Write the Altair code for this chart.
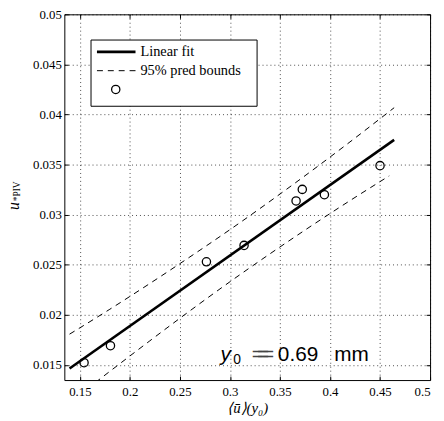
import altair as alt
import pandas as pd

# data points
px = [0.1542, 0.1806, 0.2765, 0.3141, 0.3661, 0.3723, 0.3944, 0.4500]
py = [0.01523, 0.01693, 0.02530, 0.02694, 0.03138, 0.03253, 0.03200, 0.03490]
# linear fit
fit_x = [0.1397, 0.4641]
fit_y = [0.01466, 0.03747]
# 95% prediction bounds
up_x = [0.1397, 0.18, 0.22, 0.26, 0.30, 0.34, 0.38, 0.42, 0.4641]
up_y = [0.01808, 0.02057, 0.02314, 0.02579, 0.02851, 0.03134, 0.03426, 0.03727, 0.04068]
lo_x = [0.1397, 0.18, 0.22, 0.26, 0.30, 0.34, 0.38, 0.42, 0.4592]
lo_y = [0.01126, 0.01437, 0.01742, 0.02041, 0.02331, 0.02610, 0.02880, 0.03141, 0.03388]

x_ticks = [0.15, 0.2, 0.25, 0.3, 0.35, 0.4, 0.45, 0.5]
y_ticks = [0.015, 0.02, 0.025, 0.03, 0.035, 0.04, 0.045, 0.05]
legend_labels = ["Linear fit", "95% pred bounds"]

SERIF = "Liberation Serif"
xs = alt.Scale(domain=[0.1345, 0.5], nice=False, zero=False)
ys = alt.Scale(domain=[0.0135, 0.05], nice=False, zero=False)

def tick_axis(orient):
    return alt.Axis(orient=orient, values=x_ticks if orient in ("top", "bottom") else y_ticks,
                    labels=False, grid=False, domain=False, ticks=True, tickSize=4,
                    offset=-4, tickColor="black", tickWidth=1, title=None)

pts = pd.DataFrame({"x": px, "y": py})
fit = pd.DataFrame({"x": fit_x, "y": fit_y})
up = pd.DataFrame({"x": up_x, "y": up_y})
lo = pd.DataFrame({"x": lo_x, "y": lo_y})
one = pd.DataFrame({"a": [0]})

points = alt.Chart(pts).mark_point(shape="circle", filled=False, color="black",
                                   size=70, strokeWidth=1.3, opacity=1).encode(
    x=alt.X("x:Q", scale=xs, axis=alt.Axis(
        orient="bottom", values=x_ticks, format="~g", grid=True, ticks=False, domain=False,
        gridColor="black", gridDash=[1, 3], gridOpacity=0.7, gridWidth=1,
        labelFont=SERIF, labelFontSize=13, labelColor="black", labelPadding=6,
        title="⟨ū⟩(y₀)", titleFont=SERIF, titleFontSize=15, titleFontStyle="italic",
        titleFontWeight="normal", titleColor="black", titlePadding=2)),
    y=alt.Y("y:Q", scale=ys, axis=alt.Axis(
        orient="left", values=y_ticks, format="~g", grid=True, ticks=False, domain=False,
        gridColor="black", gridDash=[1, 3], gridOpacity=0.7, gridWidth=1,
        labelFont=SERIF, labelFontSize=13, labelColor="black", labelPadding=3,
        title=None)),
)

fit_line = alt.Chart(fit).mark_line(color="black", strokeWidth=2.6, clip=True).encode(
    x=alt.X("x:Q", scale=xs, axis=tick_axis("bottom")),
    y=alt.Y("y:Q", scale=ys, axis=tick_axis("left")),
)
up_line = alt.Chart(up).mark_line(color="black", strokeWidth=1, strokeDash=[6, 5],
                                  interpolate="monotone", clip=True).encode(
    x=alt.X("x:Q", scale=xs, axis=tick_axis("top")),
    y=alt.Y("y:Q", scale=ys, axis=tick_axis("right")),
)
lo_line = alt.Chart(lo).mark_line(color="black", strokeWidth=1, strokeDash=[6, 5],
                                  interpolate="monotone", clip=True).encode(
    x=alt.X("x:Q", scale=xs, axis=None),
    y=alt.Y("y:Q", scale=ys, axis=None),
)

# annotation y0 = 0.69 mm
ANN = "Liberation Sans"
def ann_text(txt, xpos, ypos, size=21, style="normal", color="black"):
    return alt.Chart(one).mark_text(text=txt, font=ANN, fontSize=size, fontStyle=style,
                                    align="left", baseline="alphabetic", color=color).encode(
        x=alt.value(xpos), y=alt.value(ypos))

ann = [
    ann_text("y", 158, 351, style="italic"),
    ann_text("0", 171, 354, size=14),
    ann_text("=", 189.5, 351, color="#444"),
    ann_text("=", 195, 351, color="#444"),
    ann_text("=", 200, 351, color="#444"),
    ann_text("0.69", 216, 351),
    ann_text("mm", 273, 351),
]

# y axis title u_{*PIV}
yt_u = alt.Chart(one).mark_text(text="u", font=SERIF, fontSize=16, fontStyle="italic",
                                angle=270, align="left", baseline="alphabetic", color="black").encode(
    x=alt.value(-46), y=alt.value(198))
yt_sub = alt.Chart(one).mark_text(text="*PIV", font=SERIF, fontSize=9.5,
                                  angle=270, align="left", baseline="alphabetic", color="black").encode(
    x=alt.value(-45), y=alt.value(189))

# legend
leg_box = alt.Chart(one).mark_rect(fill="white", stroke="black", strokeWidth=1).encode(
    x=alt.value(27), x2=alt.value(195), y=alt.value(26), y2=alt.value(93))
leg_solid = alt.Chart(one).mark_rule(color="black", strokeWidth=2.6).encode(
    x=alt.value(33), x2=alt.value(72), y=alt.value(38))
leg_dash = alt.Chart(one).mark_rule(color="black", strokeWidth=1, strokeDash=[6, 5]).encode(
    x=alt.value(33), x2=alt.value(72), y=alt.value(57))
leg_pt = alt.Chart(one).mark_point(shape="circle", filled=False, color="black", size=70,
                                   strokeWidth=1.3, opacity=1).encode(
    x=alt.value(52), y=alt.value(76))
leg_t1 = alt.Chart(one).mark_text(text=legend_labels[0], font=SERIF, fontSize=14.5,
                                  align="left", baseline="middle", color="black").encode(
    x=alt.value(77), y=alt.value(38))
leg_t2 = alt.Chart(one).mark_text(text=legend_labels[1], font=SERIF, fontSize=14.5,
                                  align="left", baseline="middle", color="black").encode(
    x=alt.value(77), y=alt.value(57))

chart = alt.layer(
    points, fit_line, up_line, lo_line,
    leg_box, leg_solid, leg_dash, leg_pt, leg_t1, leg_t2,
    *ann, yt_u, yt_sub,
).resolve_axis(x="independent", y="independent").properties(
    width=370, height=370,
    autosize=alt.AutoSizeParams(type="none"),
    padding={"left": 57, "top": 4, "right": 6, "bottom": 38},
    background="white",
).configure_view(stroke="black", strokeWidth=1)

chart.save("out.html", embed_options={"renderer": "svg", "actions": False})
